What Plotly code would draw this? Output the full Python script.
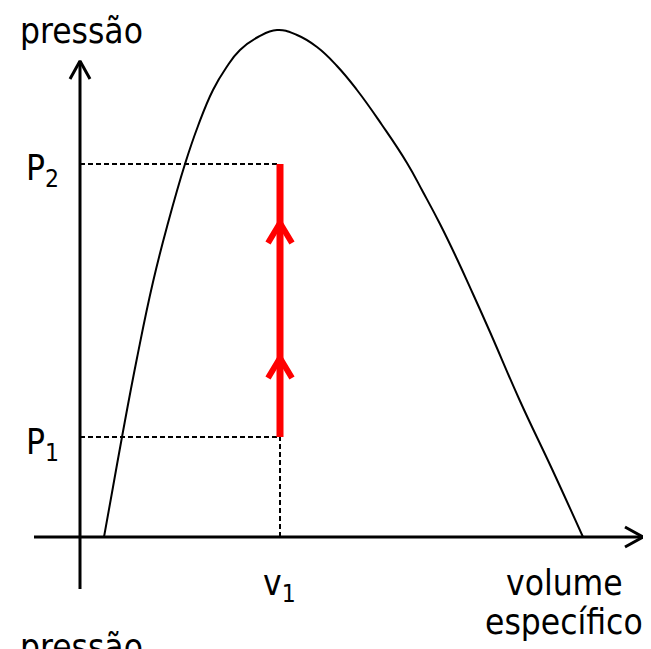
import plotly.graph_objects as go

# Saturation dome (specific volume, pressure) in arbitrary units
dome_v = [24, 33, 42, 57, 73, 88, 105, 118, 133, 146, 160, 178, 197,
          217, 237, 257, 277, 302, 327, 343, 360, 377, 393, 410, 440, 472, 503]
dome_p = [0, 50, 100, 179, 255, 314, 373, 411, 447, 469, 487, 500, 507,
          502, 490, 471, 447, 412, 374, 345, 313, 278, 243, 205, 136, 68, 0]

v1 = 200
P1 = 100
P2 = 373
arrow_tips = [314, 179]   # pressures where the red arrowheads point

FONT = "DejaVu Sans Condensed, DejaVu Sans, sans-serif"

fig = go.Figure()

def line(xs, ys, color="black", width=2, dash=None):
    fig.add_trace(go.Scatter(x=xs, y=ys, mode="lines", hoverinfo="skip", showlegend=False,
                             line=dict(color=color, width=width, dash=dash)))

# axes with open arrowheads
line([0, 0], [-52, 476], width=3)
line([-10, 0, 10], [458, 476, 458], width=3)
line([-46, 563], [0, 0], width=3)
line([545, 563, 545], [10, 0, -10], width=3)

# saturation dome
fig.add_trace(go.Scatter(x=dome_v, y=dome_p, mode="lines", hoverinfo="skip", showlegend=False,
                         line=dict(color="black", width=2, shape="spline", smoothing=1.3)))

# dashed guides
line([0, v1], [P2, P2], width=2, dash="5px,3px")
line([0, v1], [P1, P1], width=2, dash="5px,3px")
line([v1, v1], [0, P1], width=2, dash="5px,3px")

# red process line
line([v1, v1], [P1, P2], color="red", width=7)
for t in arrow_tips:
    line([v1 - 12, v1, v1 + 12], [t - 20, t, t - 20], color="red", width=6)

ann = [
    ("pressão", 1, 506),
    ("P<sub>2</sub>", -38, 367),
    ("P<sub>1</sub>", -38, 93),
    ("v<sub>1</sub>", 199, -48),
    ("volume", 484, -46),
    ("específico", 484, -85),
    ("pressão", 1, -110),
]
for txt, x, y in ann:
    fig.add_annotation(x=x, y=y, text=txt, showarrow=False, xanchor="center", yanchor="middle",
                       font=dict(family=FONT, size=35, color="black"))

# page body has an 8px margin: size/ranges chosen so data coords land where the reference has them
fig.update_layout(width=643, height=641, autosize=False,
                  margin=dict(l=0, r=0, t=0, b=0),
                  paper_bgcolor="white", plot_bgcolor="white",
                  xaxis=dict(range=[-72, 571], visible=False, fixedrange=True),
                  yaxis=dict(range=[-112, 529], visible=False, fixedrange=True))

fig.write_html("out.html")
